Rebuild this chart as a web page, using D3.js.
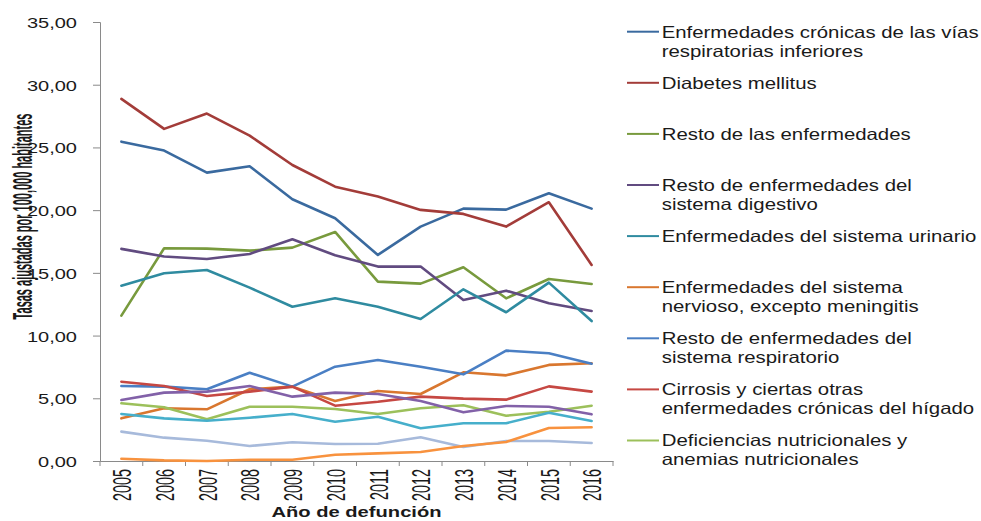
<!DOCTYPE html>
<html>
<head>
<meta charset="utf-8">
<script src="https://cdn.jsdelivr.net/npm/d3@7"></script>
<style>
  body { margin: 0; background: #fff; }
  svg { display: block; }
  text { font-family: "Liberation Sans", Arial, sans-serif; fill: #1a1a1a; }
</style>
</head>
<body>
<svg id="chart" width="981" height="521"></svg>
<script>
// Años de defunción
const years = [2005, 2006, 2007, 2008, 2009, 2010, 2011, 2012, 2013, 2014, 2015, 2016];

// Tasas ajustadas por 100,000 habitantes, por causa
const cronicasRespiratorias = [25.46, 24.75, 22.99, 23.50, 20.87, 19.35, 16.43, 18.69, 20.12, 20.04, 21.35, 20.12];
const diabetes              = [28.87, 26.48, 27.70, 25.94, 23.60, 21.87, 21.08, 20.02, 19.70, 18.69, 20.63, 15.63];
const restoEnfermedades     = [11.59, 16.96, 16.93, 16.77, 17.01, 18.26, 14.30, 14.14, 15.45, 12.97, 14.51, 14.11];
const digestivo             = [16.91, 16.30, 16.11, 16.51, 17.68, 16.40, 15.50, 15.50, 12.84, 13.58, 12.57, 11.96];
const urinario              = [13.98, 14.97, 15.23, 13.82, 12.30, 12.97, 12.30, 11.32, 13.69, 11.86, 14.22, 11.16];
const nervioso              = [3.40, 4.20, 4.12, 5.72, 5.93, 4.78, 5.58, 5.34, 7.07, 6.83, 7.66, 7.79];
const restoRespiratorio     = [5.98, 5.93, 5.72, 7.04, 5.93, 7.52, 8.05, 7.52, 6.91, 8.80, 8.59, 7.76];
const cirrosis              = [6.32, 5.98, 5.18, 5.53, 5.93, 4.41, 4.73, 5.13, 4.97, 4.89, 5.95, 5.53];
const deficiencias          = [4.60, 4.28, 3.32, 4.33, 4.33, 4.15, 3.75, 4.20, 4.44, 3.61, 3.93, 4.41];
const serie10               = [4.86, 5.45, 5.53, 5.98, 5.13, 5.45, 5.34, 4.78, 3.88, 4.39, 4.33, 3.72];
const serie11               = [3.75, 3.40, 3.21, 3.45, 3.75, 3.13, 3.53, 2.61, 3.01, 3.01, 3.85, 3.19];
const serie12               = [2.34, 1.86, 1.62, 1.20, 1.49, 1.36, 1.38, 1.89, 1.12, 1.59, 1.59, 1.44];
const serie13               = [0.18, 0.05, 0.00, 0.10, 0.10, 0.50, 0.61, 0.72, 1.20, 1.52, 2.63, 2.69];

// Rótulos de la leyenda (una entrada por línea de texto)
const legendLabels = [
  ["Enfermedades crónicas de las vías", "respiratorias inferiores"],
  ["Diabetes mellitus"],
  ["Resto de las enfermedades"],
  ["Resto de enfermedades del", "sistema digestivo"],
  ["Enfermedades del sistema urinario"],
  ["Enfermedades del sistema", "nervioso, excepto meningitis"],
  ["Resto de enfermedades del", "sistema respiratorio"],
  ["Cirrosis y ciertas otras", "enfermedades crónicas del hígado"],
  ["Deficiencias nutricionales y", "anemias nutricionales"]
];

const yTicks = [0, 5, 10, 15, 20, 25, 30, 35];

const seriesValues = [
  cronicasRespiratorias, diabetes, restoEnfermedades, digestivo, urinario,
  nervioso, restoRespiratorio, cirrosis, deficiencias,
  serie10, serie11, serie12, serie13
];
const colors = [
  "#3A6A9F", "#A33C39", "#789A3D", "#614B80", "#2F8BA0",
  "#D9772F", "#4A7FC4", "#C64843", "#9CC05B",
  "#8261A8", "#46AFCB", "#A7BADB", "#F8923E"
];

const svg = d3.select("#chart");
const plot = { left: 100, right: 613, top: 22, bottom: 461 };

const x = d3.scaleBand().domain(years).range([plot.left, plot.right]).padding(0);
const y = d3.scaleLinear().domain([0, 35]).range([plot.bottom, plot.top]);

const locale = d3.formatLocale({ decimal: ",", thousands: ".", grouping: [3], currency: ["", "€"] });
const fmt = locale.format(".2f");
const axisColor = "#8a8a8a";

// Eje Y
const gy = svg.append("g")
  .attr("transform", `translate(${plot.left},0)`)
  .call(d3.axisLeft(y).tickValues(yTicks).tickFormat(fmt).tickSize(7).tickPadding(0));
gy.select(".domain").attr("stroke", axisColor);
gy.selectAll(".tick line").attr("stroke", axisColor);
gy.selectAll(".tick text")
  .attr("x", 0).attr("dy", "0.36em")
  .attr("text-anchor", "end")
  .attr("font-size", 15.4)
  .attr("transform", "translate(-23,0) scale(1.3,1)");

// Eje X
const gx = svg.append("g")
  .attr("transform", `translate(0,${plot.bottom})`)
  .call(d3.axisBottom(x).tickSize(0).tickPadding(0));
gx.select(".domain").attr("stroke", axisColor);
gx.selectAll(".tick text")
  .attr("x", 0).attr("y", 0).attr("dy", null)
  .attr("text-anchor", "end")
  .attr("font-size", 14.4)
  .attr("transform", "translate(9.8,8) rotate(-90) scale(1,1.84)");
// Marcas entre categorías
const boundaries = years.map(d => x(d)).concat([x(years[years.length - 1]) + x.bandwidth()]);
gx.selectAll(".bound").data(boundaries).enter().append("line")
  .attr("class", "bound")
  .attr("x1", d => d).attr("x2", d => d)
  .attr("y1", 0).attr("y2", 5)
  .attr("stroke", axisColor);

// Títulos de ejes
svg.append("text")
  .attr("text-anchor", "middle")
  .attr("font-size", 11)
  .attr("font-weight", "bold")
  .attr("transform", "translate(32,216.5) rotate(-90) scale(1,2.5)")
  .text("Tasas ajustadas por 100,000 habitantes");

svg.append("text")
  .attr("text-anchor", "middle")
  .attr("font-size", 15.5)
  .attr("font-weight", "bold")
  .attr("transform", `translate(${(plot.left + plot.right) / 2},517) scale(1.3,1)`)
  .text("Año de defunción");

// Líneas de las series
const line = d3.line()
  .x((d, i) => x(years[i]) + x.bandwidth() / 2)
  .y(d => y(d));

svg.append("g").selectAll("path").data(seriesValues).enter().append("path")
  .attr("d", d => line(d))
  .attr("fill", "none")
  .attr("stroke", (d, i) => colors[i])
  .attr("stroke-width", 2.6)
  .attr("stroke-linejoin", "round")
  .attr("stroke-linecap", "round");

// Leyenda
const legend = svg.append("g");
const items = legend.selectAll("g").data(legendLabels).enter().append("g")
  .attr("transform", (d, i) => `translate(627,${31.7 + i * 51.1})`);
items.append("line")
  .attr("x1", 0).attr("x2", 32).attr("y1", 0).attr("y2", 0)
  .attr("stroke", (d, i) => colors[i])
  .attr("stroke-width", 2);
items.each(function (lines) {
  const g = d3.select(this);
  lines.forEach((t, j) => {
    g.append("text")
      .attr("font-size", 16.3)
      .attr("transform", `translate(34.7,${5.8 + j * 19}) scale(1.25,1)`)
      .text(t);
  });
});
</script>
</body>
</html>
